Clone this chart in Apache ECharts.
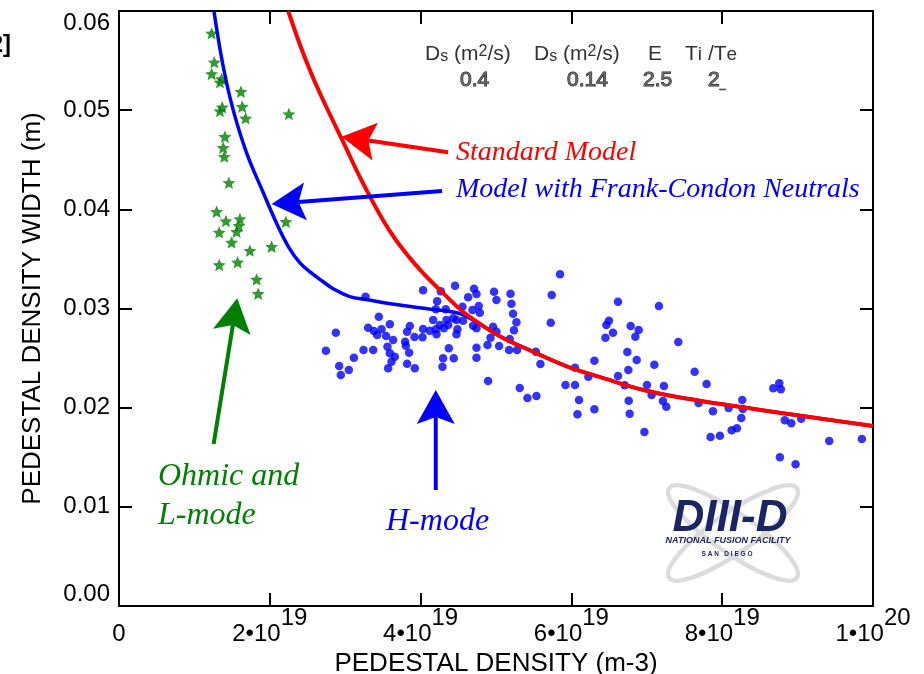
<!DOCTYPE html>
<html>
<head>
<meta charset="utf-8">
<script src="https://cdn.jsdelivr.net/npm/echarts@6/dist/echarts.min.js"></script>
<style>
  html, body { margin: 0; padding: 0; background: #fff; }
  #chart { width: 924px; height: 674px; }
</style>
</head>
<body>
<div id="chart"></div>
<script>
// Density values are in units of 1e19 m^-3, widths in metres.
const xTickMantissa = ['0', '2•10', '4•10', '6•10', '8•10', '1•10'];
const xTickExponent = ['', '19', '19', '19', '19', '20'];
const yTickLabels = ['0.00', '0.01', '0.02', '0.03', '0.04', '0.05', '0.06'];

// Ohmic and L-mode discharges
const ohmicLMode = [
  [1.229, 0.05775], [1.263, 0.05483], [1.229, 0.05365], [1.361, 0.05314], [1.339, 0.05281],
  [1.617, 0.05186], [1.369, 0.05029], [1.339, 0.04991], [1.634, 0.05035], [1.679, 0.04918],
  [2.253, 0.04961], [1.405, 0.04732], [1.382, 0.04621], [1.396, 0.04531], [1.458, 0.04268],
  [1.295, 0.03976], [1.418, 0.03882], [1.604, 0.03902], [1.590, 0.03835], [1.329, 0.03768],
  [1.560, 0.03774], [1.494, 0.03667], [2.213, 0.03875], [1.736, 0.03583], [2.024, 0.03623],
  [1.329, 0.03439], [1.573, 0.03466], [1.825, 0.03294], [1.846, 0.03149]
];

// H-mode discharges
const hMode = [
  [3.270, 0.03119], [4.033, 0.03184], [4.268, 0.03173], [4.457, 0.03230], [4.709, 0.03200],
  [4.741, 0.03146], [4.630, 0.03113], [4.974, 0.03169], [5.006, 0.03086], [5.192, 0.03149],
  [5.205, 0.03048], [5.226, 0.02948], [5.271, 0.02861], [5.239, 0.02780], [5.849, 0.03345],
  [5.739, 0.03136], [5.726, 0.02857], [6.618, 0.03069], [6.464, 0.02834], [6.498, 0.02877],
  [6.451, 0.02706], [6.551, 0.02756], [4.219, 0.03073], [4.202, 0.02992], [4.334, 0.02992],
  [4.555, 0.03018], [4.688, 0.02985], [4.771, 0.03025], [4.785, 0.02958], [4.166, 0.02884],
  [4.255, 0.02834], [4.343, 0.02884], [4.365, 0.02834], [4.308, 0.02800], [4.431, 0.02901],
  [4.476, 0.02884], [4.563, 0.02877], [4.489, 0.02790], [4.476, 0.02740], [4.033, 0.02793],
  [4.025, 0.02710], [4.122, 0.02776], [4.202, 0.02790], [4.211, 0.02740], [3.857, 0.02824],
  [3.821, 0.02766], [3.919, 0.02713], [3.446, 0.02917], [3.592, 0.02841], [3.543, 0.02723],
  [3.636, 0.02682], [3.304, 0.02806], [3.380, 0.02773], [3.424, 0.02733], [3.482, 0.02790],
  [2.876, 0.02756], [2.744, 0.02574], [2.920, 0.02420], [2.942, 0.02329], [3.048, 0.02380],
  [3.115, 0.02504], [3.243, 0.02582], [3.371, 0.02582], [3.561, 0.02615], [3.592, 0.02548],
  [3.658, 0.02514], [3.614, 0.02464], [3.569, 0.02397], [3.795, 0.02665], [3.804, 0.02625],
  [3.848, 0.02554], [3.821, 0.02443], [3.923, 0.02397], [4.374, 0.02599], [4.298, 0.02498],
  [4.290, 0.02413], [4.440, 0.02498], [4.741, 0.02605], [4.741, 0.02504], [4.696, 0.02827],
  [4.741, 0.02800], [4.961, 0.02816], [5.006, 0.02766], [4.927, 0.02706], [4.887, 0.02632],
  [5.041, 0.02622], [5.182, 0.02692], [5.173, 0.02582], [5.279, 0.02582], [4.895, 0.02269],
  [5.315, 0.02198], [5.417, 0.02097], [5.536, 0.02118], [5.527, 0.02564], [5.589, 0.02440],
  [5.921, 0.02229], [6.048, 0.02229], [6.048, 0.02403], [6.101, 0.02077], [6.080, 0.01933],
  [6.305, 0.02474], [6.305, 0.01984], [6.225, 0.02312], [6.618, 0.02319], [7.161, 0.03025],
  [6.786, 0.02824], [6.892, 0.02783], [6.848, 0.02716], [7.418, 0.02662], [6.742, 0.02561],
  [6.866, 0.02481], [7.100, 0.02433], [6.755, 0.02380], [6.707, 0.02226], [7.002, 0.02229],
  [7.064, 0.02128], [7.227, 0.02218], [7.214, 0.02067], [7.259, 0.02010], [6.760, 0.02070],
  [6.773, 0.01939], [6.968, 0.01755], [7.634, 0.02363], [7.793, 0.02239], [7.687, 0.02047],
  [7.877, 0.01963], [8.085, 0.01997], [8.266, 0.02077], [8.274, 0.01987], [8.253, 0.01896],
  [7.846, 0.01704], [7.970, 0.01717], [8.125, 0.01772], [8.195, 0.01792], [8.677, 0.02195],
  [8.757, 0.02246], [8.778, 0.02185], [8.831, 0.01873], [8.916, 0.01842], [9.048, 0.01889],
  [8.765, 0.01499], [8.973, 0.01429], [9.420, 0.01664], [9.852, 0.01684]
];

// Model curves
const standardModel = [
  [2.244, 0.0600], [2.40, 0.0566], [2.55, 0.0537], [2.708, 0.0510], [2.973, 0.0468],
  [3.238, 0.0426], [3.592, 0.0378], [3.946, 0.0343], [4.387, 0.0309], [4.607, 0.0294],
  [5.05, 0.0272], [5.49, 0.02565], [5.93, 0.0242], [6.375, 0.0231], [7.0, 0.0217],
  [7.70, 0.0207], [8.4, 0.0199], [9.025, 0.0192], [10, 0.01815]
];
const frankCondonModel = [
  [1.259, 0.0600], [1.382, 0.0544], [1.515, 0.0500], [1.692, 0.0457], [1.912, 0.0417],
  [2.090, 0.0386], [2.250, 0.0362], [2.400, 0.0346], [2.55, 0.0336], [2.708, 0.0327],
  [2.84, 0.0320], [3.062, 0.0312], [3.283, 0.0309], [3.72, 0.03035], [4.166, 0.0299],
  [4.387, 0.0297], [4.55, 0.0294], [4.75, 0.0286], [5.05, 0.0272], [5.49, 0.02565],
  [5.93, 0.0242], [6.375, 0.0231], [7.0, 0.0217], [7.70, 0.0207], [8.4, 0.0199],
  [9.025, 0.0192], [10, 0.01815]
];

// Annotation arrows: [tailX, tailY, tipX, tipY]
const arrowStandard = [4.365, 0.04575, 2.952, 0.04733];
const arrowFrankCondon = [4.285, 0.04185, 2.024, 0.04054];
const arrowOhmic = [1.255, 0.01634, 1.568, 0.03103];
const arrowHMode = [4.201, 0.0117, 4.201, 0.02178];

const FONT = 'Liberation Sans, Arial, sans-serif';
const SERIF = 'Liberation Serif, Times New Roman, serif';
const STAR = 'path://M0,-10L2.7,-3.7L9.51,-3.09L4.35,1.41L5.88,8.09L0,4.6L-5.88,8.09L-4.35,1.41L-9.51,-3.09L-2.7,-3.7Z';

function arrowSeries(item, color) {
  return {
    type: 'custom',
    xAxisIndex: 0, yAxisIndex: 0,
    z: 6,
    silent: true,
    data: [item],
    renderItem: function (params, api) {
      const a = api.coord([api.value(0), api.value(1)]);
      const b = api.coord([api.value(2), api.value(3)]);
      let dx = b[0] - a[0], dy = b[1] - a[1];
      const len = Math.sqrt(dx * dx + dy * dy);
      dx /= len; dy /= len;
      const px = -dy, py = dx;
      const headLen = 34, halfW = 19, notch = 27;
      const bx = b[0] - dx * headLen, by = b[1] - dy * headLen;
      const nx = b[0] - dx * notch, ny = b[1] - dy * notch;
      return {
        type: 'group',
        children: [
          { type: 'line', shape: { x1: a[0], y1: a[1], x2: nx, y2: ny },
            style: { stroke: color, lineWidth: 4 } },
          { type: 'polygon',
            shape: { points: [[b[0], b[1]], [bx + px * halfW, by + py * halfW], [nx, ny], [bx - px * halfW, by - py * halfW]] },
            style: { fill: color } }
        ]
      };
    }
  };
}

const axisLine = { show: true, onZero: false, lineStyle: { color: '#000', width: 2 } };
const axisTick = { show: true, inside: true, length: 13, lineStyle: { color: '#000', width: 2 } };

const chart = echarts.init(document.getElementById('chart'), null, { renderer: 'canvas' });

const option = {
  backgroundColor: '#fff',
  animation: false,
  grid: { left: 119, right: 51, top: 11, bottom: 68, containLabel: false, outerBoundsMode: 'none' },
  xAxis: [
    {
      type: 'value', min: 0, max: 10, interval: 2, position: 'bottom',
      axisLine: axisLine, axisTick: axisTick, splitLine: { show: false },
      axisLabel: {
        margin: 0,
        formatter: function (v) {
          const i = Math.round(v / 2);
          return xTickExponent[i] ? '{b|' + xTickMantissa[i] + '}{s|' + xTickExponent[i] + '}' : '{b|' + xTickMantissa[i] + '}';
        },
        rich: {
          b: { fontSize: 24, fontFamily: FONT, color: '#000', lineHeight: 40, verticalAlign: 'bottom' },
          s: { fontSize: 24, fontFamily: FONT, color: '#000', verticalAlign: 'top' }
        }
      },
      name: 'PEDESTAL DENSITY (m-3)', nameLocation: 'middle', nameGap: 41,
      nameTextStyle: { fontSize: 26, fontFamily: FONT, color: '#000' }
    },
    {
      type: 'value', min: 0, max: 10, interval: 2, position: 'top',
      axisLine: axisLine, axisTick: axisTick, splitLine: { show: false },
      axisLabel: { show: false }
    }
  ],
  yAxis: [
    {
      type: 'value', min: 0, max: 0.06, interval: 0.01, position: 'left',
      axisLine: axisLine, axisTick: axisTick, splitLine: { show: false },
      axisLabel: {
        margin: 9, fontSize: 24, fontFamily: FONT, color: '#000',
        verticalAlignMaxLabel: 'top', verticalAlignMinLabel: 'bottom',
        formatter: function (v) { return yTickLabels[Math.round(v * 100)]; }
      },
      name: 'PEDESTAL DENSITY WIDTH (m)', nameLocation: 'middle', nameGap: 73,
      nameTextStyle: { fontSize: 26, fontFamily: FONT, color: '#000' }
    },
    {
      type: 'value', min: 0, max: 0.06, interval: 0.01, position: 'right',
      axisLine: axisLine, axisTick: axisTick, splitLine: { show: false },
      axisLabel: { show: false }
    }
  ],
  series: [
    {
      name: 'Ohmic and L-mode', type: 'scatter', data: ohmicLMode,
      symbol: STAR, symbolKeepAspect: true, symbolSize: 13,
      itemStyle: { color: '#008000' }, z: 2, silent: true
    },
    {
      name: 'H-mode', type: 'scatter', data: hMode,
      symbol: 'circle', symbolSize: 8.5,
      itemStyle: { color: '#0000ff' }, z: 2, silent: true
    },
    {
      name: 'Model with Frank-Condon Neutrals', type: 'line', data: frankCondonModel,
      smooth: 0.4, showSymbol: false, silent: true,
      lineStyle: { color: '#0000ff', width: 3.5 }, z: 3
    },
    {
      name: 'Standard Model', type: 'line', data: standardModel,
      smooth: 0.4, showSymbol: false, silent: true,
      lineStyle: { color: '#ff0000', width: 4 }, z: 4
    },
    arrowSeries(arrowStandard, '#ff0000'),
    arrowSeries(arrowFrankCondon, '#0000ff'),
    arrowSeries(arrowOhmic, '#008000'),
    arrowSeries(arrowHMode, '#0000ff')
  ],
  graphic: [
    // reference number at the page edge
    { type: 'text', x: 11, y: 45, style: { text: '[2]', font: 'bold 24px ' + FONT, fill: '#000', align: 'right', verticalAlign: 'middle' } },

    // model parameters
    { type: 'text', x: 425, y: 54, style: {
        text: 'D{sub|s} (m{sup|2}/s)', font: '21px ' + FONT, fill: '#333', align: 'left', verticalAlign: 'middle',
        rich: {
          sub: { font: '16px ' + FONT, fill: '#333', verticalAlign: 'bottom' },
          sup: { font: '16px ' + FONT, fill: '#333', verticalAlign: 'top' }
        } } },
    { type: 'text', x: 534, y: 54, style: {
        text: 'D{sub|s} (m{sup|2}/s)', font: '21px ' + FONT, fill: '#333', align: 'left', verticalAlign: 'middle',
        rich: {
          sub: { font: '16px ' + FONT, fill: '#333', verticalAlign: 'bottom' },
          sup: { font: '16px ' + FONT, fill: '#333', verticalAlign: 'top' }
        } } },
    { type: 'text', x: 648, y: 54, style: { text: 'E', font: '21px ' + FONT, fill: '#333', align: 'left', verticalAlign: 'middle' } },
    { type: 'text', x: 685, y: 54, style: {
        text: 'T{sub|i} /T{sub|e}', font: '21px ' + FONT, fill: '#333', align: 'left', verticalAlign: 'middle',
        rich: { sub: { font: '19px ' + FONT, fill: '#333', verticalAlign: 'bottom' } } } },
    { type: 'text', x: 460, y: 80, style: { text: '0.4', font: '21px ' + FONT, fill: '#666', stroke: '#222', lineWidth: 1, align: 'left', verticalAlign: 'middle' } },
    { type: 'text', x: 567, y: 80, style: { text: '0.14', font: '21px ' + FONT, fill: '#666', stroke: '#222', lineWidth: 1, align: 'left', verticalAlign: 'middle' } },
    { type: 'text', x: 643, y: 80, style: { text: '2.5', font: '21px ' + FONT, fill: '#666', stroke: '#222', lineWidth: 1, align: 'left', verticalAlign: 'middle' } },
    { type: 'text', x: 708, y: 80, style: {
        text: '2{u|_}', font: '21px ' + FONT, fill: '#666', stroke: '#222', lineWidth: 1, align: 'left', verticalAlign: 'middle',
        rich: { u: { font: '10px ' + FONT, fill: '#666', stroke: '#222', lineWidth: 0.8, verticalAlign: 'bottom' } } } },

    // curve and data annotations
    { type: 'text', x: 456, y: 153, style: { text: 'Standard Model', font: 'italic 28px ' + SERIF, fill: '#ff0000', align: 'left', verticalAlign: 'middle' } },
    { type: 'text', x: 456, y: 190, style: { text: 'Model with Frank-Condon Neutrals', font: 'italic 28px ' + SERIF, fill: '#0000ff', align: 'left', verticalAlign: 'middle' } },
    { type: 'text', x: 158, y: 477, style: { text: 'Ohmic and', font: 'italic 32px ' + SERIF, fill: '#008000', align: 'left', verticalAlign: 'middle' } },
    { type: 'text', x: 158, y: 516, style: { text: 'L-mode', font: 'italic 32px ' + SERIF, fill: '#008000', align: 'left', verticalAlign: 'middle' } },
    { type: 'text', x: 386, y: 522, style: { text: 'H-mode', font: 'italic 32px ' + SERIF, fill: '#0000ff', align: 'left', verticalAlign: 'middle' } },

    // facility logo
    { type: 'ellipse', z: 1, originX: 733, originY: 533, rotation: Math.PI * 35 / 180,
      shape: { cx: 733, cy: 533, rx: 78, ry: 20 }, style: { fill: 'none', stroke: '#dcdcdc', lineWidth: 4.5 } },
    { type: 'ellipse', z: 1, originX: 733, originY: 533, rotation: -Math.PI * 35 / 180,
      shape: { cx: 733, cy: 533, rx: 78, ry: 20 }, style: { fill: 'none', stroke: '#dcdcdc', lineWidth: 4.5 } },
    { type: 'text', z: 2, x: 730, y: 519, style: { text: 'DIII-D', font: 'italic 900 44px ' + FONT, fill: '#1b2563', align: 'center', verticalAlign: 'middle' } },
    { type: 'text', z: 2, x: 728, y: 541, style: { text: 'NATIONAL FUSION FACILITY', font: 'italic bold 9px ' + FONT, fill: '#1b2563', align: 'center', verticalAlign: 'middle' } },
    { type: 'text', z: 2, x: 727, y: 554, style: { text: 'S A N   D I E G O', font: 'bold 6.5px ' + FONT, fill: '#1b2563', align: 'center', verticalAlign: 'middle' } }
  ]
};

chart.setOption(option);
</script>
</body>
</html>
